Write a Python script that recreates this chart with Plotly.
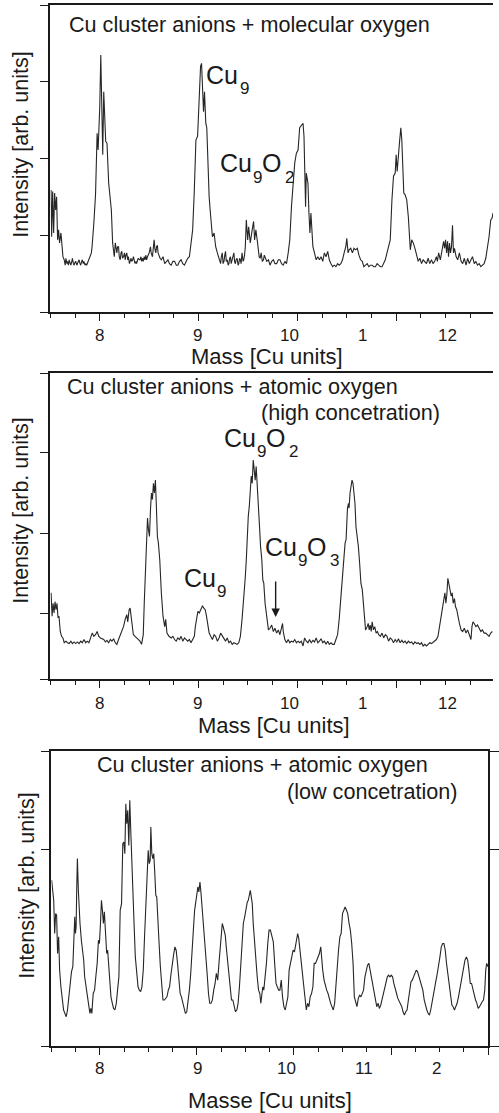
import plotly.graph_objects as go

# ---------------- data ----------------
mass1 = [7.507,7.513,7.523,7.533,7.543,7.553,7.563,7.573,7.583,7.593,7.607,7.617,7.627,7.64,7.65,7.657,7.667,7.673,7.683,7.69,
         7.7,7.707,7.717,7.723,7.733,7.74,7.75,7.757,7.767,7.773,7.783,7.79,7.8,7.807,7.817,7.823,7.833,7.84,7.85,7.857,
         7.867,7.873,7.883,7.89,7.9,7.907,7.915,7.923,7.93,7.94,7.957,7.967,7.973,7.983,7.993,8.0,8.01,8.02,8.03,8.04,
         8.05,8.06,8.073,8.09,8.107,8.117,8.13,8.14,8.147,8.157,8.165,8.173,8.18,8.19,8.197,8.207,8.215,8.223,8.23,8.24,
         8.25,8.257,8.265,8.273,8.283,8.29,8.3,8.307,8.317,8.323,8.333,8.34,8.35,8.357,8.367,8.373,8.383,8.39,8.4,8.407,
         8.417,8.423,8.433,8.44,8.45,8.457,8.467,8.473,8.483,8.49,8.5,8.513,8.52,8.533,8.54,8.55,8.557,8.567,8.575,8.583,
         8.59,8.6,8.61,8.623,8.64,8.657,8.673,8.69,8.705,8.723,8.74,8.757,8.775,8.79,8.807,8.823,8.84,8.857,8.875,8.89,
         8.907,8.917,8.923,8.94,8.957,8.973,8.99,9.0,9.01,9.02,9.03,9.04,9.05,9.06,9.073,9.083,9.097,9.107,9.117,9.13,
         9.14,9.157,9.173,9.19,9.207,9.223,9.23,9.24,9.248,9.257,9.265,9.273,9.28,9.29,9.3,9.307,9.315,9.323,9.33,9.34,
         9.35,9.357,9.365,9.373,9.38,9.39,9.4,9.407,9.415,9.423,9.43,9.44,9.45,9.457,9.465,9.473,9.483,9.497,9.507,9.523,
         9.54,9.557,9.567,9.58,9.597,9.613,9.623,9.633,9.645,9.657,9.665,9.673,9.69,9.707,9.723,9.74,9.757,9.773,9.79,9.807,
         9.823,9.84,9.857,9.873,9.89,9.907,9.923,9.94,9.957,9.973,9.99,10.007,10.023,10.04,10.057,10.067,10.077,10.083,10.09,10.107,
         10.117,10.127,10.137,10.147,10.157,10.173,10.19,10.207,10.223,10.24,10.257,10.273,10.29,10.307,10.323,10.34,10.357,10.373,10.39,10.407,
         10.423,10.44,10.457,10.473,10.49,10.5,10.513,10.523,10.54,10.557,10.573,10.59,10.607,10.623,10.64,10.657,10.673,10.69,10.707,10.723,
         10.74,10.757,10.773,10.79,10.807,10.823,10.84,10.857,10.873,10.89,10.907,10.923,10.94,10.957,10.973,10.99,11.0,11.01,11.02,11.033,
         11.047,11.057,11.067,11.077,11.09,11.107,11.123,11.133,11.143,11.157,11.173,11.19,11.207,11.223,11.24,11.257,11.273,11.29,11.307,11.323,
         11.34,11.357,11.373,11.39,11.407,11.417,11.43,11.447,11.463,11.48,11.49,11.5,11.51,11.52,11.53,11.54,11.55,11.56,11.57,11.58,
         11.59,11.607,11.623,11.64,11.657,11.673,11.69,11.707,11.723,11.74,11.757,11.773,11.79,11.807,11.823,11.84,11.857,11.873,11.89,11.907,
         11.923,11.94,11.957,11.97,11.98]
int1 = [1.59,0.98,1.57,1.03,1.55,1.33,1.50,0.94,1.07,0.90,1.03,0.81,0.72,0.68,0.61,0.70,0.63,0.66,0.61,0.68,
        0.63,0.61,0.66,0.70,0.63,0.61,0.65,0.66,0.61,0.63,0.68,0.68,0.63,0.61,0.66,0.68,0.63,0.66,0.61,0.63,
        0.61,0.63,0.66,0.68,0.70,0.72,0.77,0.87,0.98,1.16,1.53,2.07,2.33,2.11,2.40,2.68,3.35,2.61,2.05,2.87,
        2.55,2.22,2.20,1.68,1.46,1.33,0.90,0.77,0.72,0.90,0.79,0.77,0.85,0.85,0.72,0.68,0.77,0.79,0.70,0.72,
        0.77,0.68,0.74,0.77,0.68,0.72,0.63,0.66,0.70,0.66,0.68,0.72,0.66,0.63,0.66,0.63,0.68,0.70,0.68,0.68,
        0.72,0.66,0.70,0.66,0.72,0.68,0.74,0.68,0.72,0.74,0.77,0.85,0.77,0.72,0.83,0.94,0.83,0.77,0.85,0.87,
        0.77,0.72,0.70,0.68,0.72,0.63,0.66,0.68,0.63,0.61,0.66,0.66,0.61,0.61,0.66,0.68,0.63,0.61,0.66,0.70,
        0.72,0.85,0.94,1.07,1.59,2.24,2.29,2.68,3.03,3.20,3.24,2.90,2.61,2.87,2.46,2.40,1.81,1.50,1.33,1.16,
        0.98,1.03,0.85,0.77,0.70,0.63,0.72,0.77,0.63,0.66,0.74,0.79,0.66,0.68,0.61,0.63,0.70,0.72,0.63,0.68,
        0.70,0.77,0.65,0.63,0.68,0.70,0.61,0.63,0.70,0.68,0.63,0.77,0.66,0.68,0.74,0.85,1.20,0.94,1.11,0.90,
        1.05,1.18,0.94,1.07,0.90,0.72,0.70,0.77,0.66,0.68,0.74,0.72,0.66,0.68,0.61,0.66,0.68,0.63,0.63,0.68,
        0.68,0.63,0.61,0.66,0.63,0.77,0.94,1.37,1.72,1.94,2.07,2.11,2.40,2.44,2.46,2.29,1.85,1.37,1.81,1.68,
        1.29,1.03,1.29,1.11,0.85,0.77,0.68,0.72,0.68,0.72,0.66,0.77,0.72,0.79,0.68,0.63,0.59,0.61,0.59,0.63,
        0.61,0.63,0.68,0.77,0.85,0.96,0.77,0.81,0.83,0.77,0.83,0.81,0.83,0.74,0.68,0.66,0.59,0.61,0.63,0.59,
        0.61,0.61,0.59,0.59,0.63,0.61,0.59,0.59,0.63,0.68,0.77,0.87,0.94,1.46,1.77,1.81,2.05,1.83,2.05,2.20,
        2.40,2.24,1.90,1.55,1.53,1.46,1.24,1.03,0.81,0.94,0.90,0.83,0.72,0.66,0.70,0.63,0.68,0.66,0.63,0.70,
        0.63,0.68,0.63,0.66,0.72,0.66,0.77,0.68,0.79,0.92,0.83,0.94,0.77,0.92,0.72,0.90,0.77,0.85,1.13,0.77,
        0.83,0.72,0.68,0.77,0.66,0.63,0.70,0.61,0.70,0.63,0.68,0.72,0.63,0.66,0.61,0.63,0.59,0.61,0.63,0.70,
        0.83,0.98,1.20,1.22,1.29]

mass2 = [7.507,7.517,7.527,7.537,7.547,7.557,7.567,7.577,7.587,7.6,7.613,7.627,7.64,7.657,7.673,7.69,7.707,7.723,7.74,7.757,
         7.773,7.79,7.807,7.823,7.84,7.857,7.873,7.89,7.907,7.923,7.94,7.957,7.973,7.99,8.007,8.023,8.04,8.057,8.073,8.09,
         8.107,8.123,8.14,8.157,8.173,8.19,8.207,8.223,8.24,8.257,8.273,8.283,8.297,8.307,8.317,8.327,8.34,8.357,8.373,8.39,
         8.407,8.423,8.44,8.45,8.46,8.473,8.483,8.493,8.503,8.513,8.523,8.533,8.543,8.553,8.563,8.573,8.583,8.593,8.607,8.623,
         8.64,8.657,8.667,8.68,8.7,8.723,8.74,8.757,8.773,8.79,8.807,8.823,8.84,8.857,8.873,8.89,8.907,8.923,8.94,8.957,
         8.967,8.98,8.993,9.007,9.02,9.03,9.04,9.053,9.067,9.08,9.093,9.107,9.123,9.14,9.157,9.173,9.19,9.207,9.223,9.24,
         9.257,9.273,9.29,9.307,9.323,9.34,9.357,9.373,9.39,9.407,9.423,9.44,9.457,9.473,9.483,9.493,9.503,9.513,9.523,9.533,
         9.543,9.553,9.563,9.573,9.583,9.593,9.607,9.617,9.627,9.64,9.65,9.66,9.673,9.683,9.693,9.707,9.723,9.74,9.757,9.773,
         9.79,9.807,9.823,9.84,9.85,9.857,9.873,9.89,9.907,9.923,9.94,9.957,9.973,9.99,10.007,10.023,10.04,10.057,10.073,10.09,
         10.107,10.123,10.14,10.157,10.173,10.19,10.207,10.223,10.24,10.257,10.273,10.29,10.307,10.323,10.34,10.357,10.373,10.39,10.407,10.423,
         10.44,10.457,10.473,10.483,10.493,10.507,10.517,10.523,10.533,10.543,10.553,10.563,10.573,10.583,10.593,10.603,10.617,10.63,10.643,10.657,
         10.667,10.677,10.69,10.707,10.717,10.727,10.737,10.747,10.757,10.77,10.783,10.797,10.81,10.823,10.84,10.857,10.873,10.89,10.907,10.923,
         10.94,10.957,10.973,10.99,11.007,11.023,11.04,11.057,11.073,11.09,11.107,11.123,11.14,11.157,11.173,11.19,11.207,11.223,11.24,11.257,
         11.273,11.29,11.307,11.323,11.34,11.357,11.373,11.39,11.407,11.423,11.433,11.447,11.457,11.473,11.483,11.493,11.503,11.513,11.523,11.533,
         11.543,11.557,11.567,11.577,11.59,11.6,11.613,11.623,11.64,11.657,11.673,11.69,11.707,11.723,11.74,11.757,11.767,11.777,11.79,11.807,
         11.823,11.84,11.857,11.873,11.89,11.907,11.923,11.94,11.957,11.973]
int2 = [1.26,0.97,1.13,1.01,1.15,1.05,1.13,0.95,0.97,0.78,0.72,0.70,0.64,0.66,0.64,0.63,0.66,0.63,0.65,0.63,
        0.65,0.63,0.66,0.64,0.68,0.64,0.66,0.64,0.70,0.76,0.72,0.74,0.78,0.72,0.70,0.69,0.68,0.65,0.67,0.64,
        0.68,0.66,0.69,0.64,0.62,0.68,0.74,0.80,0.84,0.93,0.99,0.90,1.05,1.07,0.97,0.88,0.74,0.72,0.70,0.68,
        0.66,0.62,0.74,1.13,1.46,1.88,2.19,2.04,1.96,2.29,2.50,2.42,2.62,2.50,2.66,2.33,1.96,1.88,1.67,1.26,
        0.97,0.84,0.93,0.76,0.72,0.70,0.72,0.68,0.66,0.70,0.68,0.72,0.66,0.70,0.68,0.66,0.68,0.64,0.68,0.72,
        0.84,0.97,1.03,1.01,1.05,1.09,1.10,1.07,1.05,0.97,0.84,0.76,0.72,0.68,0.74,0.72,0.66,0.70,0.76,0.72,
        0.68,0.66,0.70,0.64,0.66,0.62,0.64,0.63,0.62,0.64,0.72,0.93,1.17,1.46,1.67,2.00,2.21,2.33,2.54,2.71,
        2.62,2.91,2.79,2.66,2.83,2.58,2.15,2.08,1.84,1.67,1.42,1.38,1.13,1.01,0.88,0.80,0.82,0.86,0.78,0.82,
        0.76,0.80,0.74,0.84,0.88,0.78,0.68,0.64,0.68,0.64,0.66,0.65,0.68,0.64,0.66,0.64,0.66,0.60,0.70,0.66,
        0.64,0.68,0.64,0.67,0.65,0.70,0.64,0.66,0.69,0.64,0.66,0.62,0.66,0.62,0.64,0.62,0.62,0.68,0.74,0.93,
        1.22,1.51,1.80,1.88,1.92,2.31,2.37,2.31,2.50,2.62,2.66,2.62,2.50,2.37,2.08,2.00,1.84,1.63,1.38,1.30,
        1.13,1.05,0.80,0.84,0.88,0.80,0.86,0.78,0.90,0.80,0.84,0.76,0.78,0.74,0.72,0.76,0.70,0.74,0.72,0.66,
        0.70,0.68,0.64,0.68,0.65,0.69,0.64,0.67,0.64,0.66,0.63,0.66,0.64,0.65,0.62,0.65,0.63,0.64,0.62,0.64,
        0.60,0.62,0.60,0.62,0.64,0.63,0.65,0.66,0.68,0.72,0.80,0.93,0.97,1.09,1.22,1.26,1.13,1.24,1.44,1.38,
        1.30,1.22,1.26,1.13,1.19,1.09,1.05,0.97,0.88,0.80,0.78,0.82,0.76,0.80,0.74,0.68,0.84,0.90,0.88,0.84,
        0.86,0.82,0.78,0.80,0.76,0.76,0.74,0.72,0.76,0.78]

mass3 = [7.503,7.514,7.524,7.534,7.544,7.554,7.564,7.575,7.585,7.598,7.612,7.626,7.639,7.653,7.666,7.680,7.693,7.707,7.721,7.731,
         7.741,7.748,7.755,7.761,7.768,7.778,7.788,7.795,7.809,7.822,7.833,7.843,7.856,7.870,7.883,7.897,7.907,7.917,7.931,7.945,
         7.958,7.972,7.985,7.995,8.006,8.016,8.026,8.036,8.046,8.057,8.070,8.080,8.091,8.101,8.114,8.128,8.141,8.155,8.169,8.182,
         8.196,8.209,8.223,8.236,8.247,8.257,8.267,8.277,8.287,8.298,8.308,8.318,8.328,8.338,8.352,8.365,8.379,8.393,8.406,8.420,
         8.433,8.447,8.460,8.474,8.488,8.498,8.508,8.518,8.525,8.535,8.545,8.555,8.566,8.576,8.586,8.596,8.610,8.623,8.637,8.650,
         8.664,8.678,8.691,8.705,8.718,8.732,8.745,8.759,8.773,8.786,8.800,8.813,8.827,8.840,8.854,8.868,8.881,8.895,8.908,8.922,
         8.936,8.949,8.963,8.976,8.990,9.000,9.010,9.020,9.031,9.041,9.051,9.064,9.078,9.092,9.105,9.119,9.132,9.146,9.159,9.173,
         9.187,9.200,9.214,9.227,9.241,9.251,9.261,9.271,9.282,9.292,9.302,9.316,9.329,9.343,9.356,9.370,9.383,9.397,9.411,9.424,
         9.438,9.451,9.465,9.478,9.492,9.506,9.519,9.529,9.540,9.550,9.560,9.570,9.580,9.594,9.607,9.621,9.635,9.648,9.658,9.669,
         9.679,9.689,9.703,9.716,9.730,9.743,9.757,9.767,9.777,9.787,9.801,9.815,9.828,9.842,9.855,9.869,9.882,9.896,9.910,9.923,
         9.937,9.950,9.964,9.977,9.991,10.005,10.018,10.028,10.038,10.049,10.059,10.072,10.086,10.100,10.113,10.127,10.140,10.154,10.167,10.181,
         10.195,10.208,10.222,10.235,10.249,10.262,10.276,10.286,10.296,10.310,10.324,10.337,10.351,10.364,10.378,10.391,10.405,10.419,10.432,10.446,
         10.459,10.473,10.486,10.500,10.514,10.527,10.541,10.554,10.568,10.581,10.595,10.609,10.622,10.636,10.649,10.663,10.677,10.690,10.704,10.717,
         10.731,10.744,10.758,10.772,10.785,10.799,10.812,10.826,10.839,10.853,10.867,10.880,10.894,10.907,10.921,10.934,10.948,10.962,10.975,10.989,
         11.002,11.016,11.029,11.043,11.057,11.070,11.084,11.097,11.111,11.124,11.138,11.152,11.165,11.179,11.192,11.206,11.219,11.233,11.247,11.260,
         11.274,11.287,11.301,11.314,11.328,11.342,11.355,11.369,11.382,11.396,11.409,11.423,11.437,11.450,11.464,11.477,11.491,11.504,11.518,11.532,
         11.545,11.559,11.572,11.586,11.600,11.613,11.627,11.640,11.654,11.667,11.681,11.695,11.708,11.722,11.735,11.749,11.762,11.776,11.790,11.803,
         11.817,11.830,11.844,11.857,11.871,11.885,11.898,11.912,11.925,11.939,11.953,11.966,11.976,11.986,12.000]
int3 = [0.843,0.792,0.741,0.572,0.673,0.665,0.470,0.555,0.386,0.301,0.250,0.183,0.166,0.149,0.183,0.250,0.318,0.377,0.403,0.555,
        0.657,0.572,0.606,0.792,0.953,0.792,0.657,0.623,0.538,0.487,0.437,0.352,0.301,0.250,0.217,0.166,0.191,0.166,0.267,0.284,
        0.352,0.420,0.538,0.521,0.623,0.741,0.690,0.623,0.682,0.555,0.470,0.487,0.420,0.318,0.250,0.217,0.191,0.183,0.217,0.284,
        0.352,0.690,0.724,1.029,1.037,0.978,1.232,1.130,1.198,1.020,1.249,1.096,0.927,0.843,0.623,0.453,0.369,0.301,0.284,0.276,
        0.301,0.386,0.555,0.690,0.843,0.995,0.927,0.944,1.113,0.978,0.953,0.978,0.876,0.766,0.758,0.623,0.521,0.403,0.301,0.234,
        0.234,0.242,0.250,0.284,0.301,0.362,0.420,0.462,0.504,0.487,0.420,0.352,0.267,0.250,0.225,0.200,0.166,0.174,0.217,0.284,
        0.369,0.453,0.589,0.690,0.733,0.783,0.809,0.783,0.834,0.783,0.724,0.640,0.572,0.470,0.369,0.267,0.217,0.217,0.234,0.284,
        0.318,0.369,0.335,0.420,0.521,0.572,0.623,0.606,0.589,0.563,0.504,0.437,0.386,0.318,0.234,0.234,0.200,0.174,0.183,0.217,
        0.301,0.420,0.504,0.623,0.657,0.707,0.733,0.741,0.775,0.792,0.758,0.724,0.623,0.521,0.437,0.352,0.284,0.267,0.217,0.267,
        0.301,0.284,0.352,0.420,0.521,0.589,0.589,0.572,0.555,0.530,0.420,0.318,0.301,0.284,0.284,0.335,0.250,0.200,0.183,0.217,
        0.250,0.386,0.420,0.453,0.487,0.479,0.521,0.555,0.572,0.547,0.504,0.437,0.369,0.318,0.250,0.183,0.217,0.200,0.250,0.267,
        0.301,0.420,0.420,0.437,0.453,0.470,0.504,0.437,0.386,0.335,0.301,0.284,0.267,0.234,0.217,0.200,0.183,0.217,0.318,0.420,
        0.487,0.555,0.572,0.673,0.690,0.707,0.690,0.673,0.623,0.589,0.521,0.420,0.250,0.217,0.200,0.242,0.259,0.250,0.267,0.284,
        0.352,0.386,0.411,0.420,0.386,0.352,0.318,0.284,0.234,0.200,0.217,0.191,0.208,0.234,0.267,0.301,0.318,0.352,0.360,0.352,
        0.360,0.352,0.318,0.284,0.267,0.242,0.225,0.217,0.200,0.174,0.157,0.174,0.183,0.234,0.284,0.327,0.335,0.352,0.377,0.386,
        0.377,0.352,0.335,0.301,0.284,0.234,0.200,0.183,0.166,0.157,0.183,0.217,0.267,0.301,0.335,0.369,0.403,0.453,0.504,0.521,
        0.521,0.487,0.420,0.369,0.318,0.250,0.208,0.200,0.183,0.200,0.217,0.250,0.284,0.318,0.352,0.403,0.437,0.453,0.437,0.386,
        0.318,0.318,0.284,0.250,0.234,0.217,0.191,0.200,0.217,0.225,0.234,0.284,0.386,0.420,0.403]

tick_text12 = ["8", "9", "10", "1", "12"]
tick_pos12 = [8.0, 8.99, 9.92, 10.66, 11.52]
tick_text3 = ["8", "9", "10", "11", "2"]
tick_pos3 = [8.0, 9.01, 9.92, 10.72, 11.47]

assert len(mass1) == len(int1), (len(mass1), len(int1))
assert len(mass2) == len(int2), (len(mass2), len(int2))
assert len(mass3) == len(int3), (len(mass3), len(int3))

# ---------------- figure ----------------
W, H = 499, 1113
FONT = "Liberation Sans, Arial, Helvetica, sans-serif"
INK = "#1a1a1a"

def fx(p):
    return p / W

def fy(p):
    return 1 - p / H

fig = go.Figure()
line_style = dict(color="#262626", width=1.1)
fig.add_trace(go.Scatter(x=mass1, y=int1, mode="lines", line=line_style, xaxis="x", yaxis="y"))
fig.add_trace(go.Scatter(x=mass2, y=int2, mode="lines", line=line_style, xaxis="x2", yaxis="y2"))
fig.add_trace(go.Scatter(x=mass3, y=int3, mode="lines", line=line_style, xaxis="x3", yaxis="y3"))

def xax(domain, rng, anchor):
    return dict(domain=domain, range=rng, anchor=anchor, showline=True, linecolor=INK, linewidth=1.5,
                mirror=True, ticks="outside", tickmode="linear", tick0=8, dtick=1, ticklen=7,
                tickwidth=1.4, tickcolor=INK, showticklabels=False, showgrid=False, zeroline=False,
                minor=dict(dtick=0.25, tick0=7.5, ticklen=4, tickwidth=1.3, tickcolor=INK,
                           ticks="outside", showgrid=False))

def yax(domain, rng, anchor, tv, mirror=False):
    return dict(domain=domain, range=rng, anchor=anchor, showline=True, linecolor=INK, linewidth=1.5,
                mirror=mirror, ticks="outside", tickmode="array", tickvals=tv, ticklen=9,
                tickwidth=1.4, tickcolor=INK, showticklabels=False, showgrid=False, zeroline=False)

fig.update_layout(
    width=W, height=H, margin=dict(l=0, r=0, t=0, b=0), autosize=False,
    paper_bgcolor="white", plot_bgcolor="white", showlegend=False,
    font=dict(family=FONT, color=INK, size=15),
    xaxis=xax([fx(51), 1.0], [7.5, 11.98], "y"),
    yaxis=yax([fy(312), fy(5)], [0, 4], "x", [0, 1, 2, 3, 4]),
    xaxis2=xax([fx(51), 1.0], [7.5, 11.98], "y2"),
    yaxis2=yax([fy(679), fy(373)], [0.19, 3.99], "x2", [0.19, 1, 2, 3, 3.99]),
    xaxis3=xax([fx(52), fx(494)], [7.5, 12.0], "y3"),
    yaxis3=yax([fy(1046), fy(751)], [0, 1.5], "x3", [0, 1, 1.5], mirror="ticks"),
)

ann = []
def text(x, y, s, size, xanchor="center", yanchor="middle", xref="paper", angle=0):
    ann.append(dict(x=x, y=y, xref=xref, yref="paper", text=s, showarrow=False,
                    xanchor=xanchor, yanchor=yanchor, textangle=angle, borderpad=0,
                    font=dict(family=FONT, size=size, color=INK)))

# tick labels
for t, p in zip(tick_text12, tick_pos12):
    text(p, fy(335), t, 17, xref="x")
    text(p, fy(703), t, 17, xref="x2")
for t, p in zip(tick_text3, tick_pos3):
    text(p, fy(1068), t, 17, xref="x3")

# axis titles
text(fx(270), fy(357), "Mass [Cu units]", 22)
text(fx(277), fy(725), "Mass [Cu units]", 22)
text(fx(273), fy(1100), "Masse [Cu units]", 22)
text(fx(21), fy(145), "Intensity [arb. units]", 21.5, angle=-90)
text(fx(21), fy(511), "Intensity [arb. units]", 21.5, angle=-90)
text(fx(27), fy(886), "Intensity [arb. units]", 21.5, angle=-90)

# panel titles
text(fx(253), fy(25), "Cu cluster anions + molecular oxygen", 21.6)
text(fx(235), fy(387), "Cu cluster anions + atomic oxygen", 21.6)
text(fx(355), fy(412), "(high concetration)", 21.6)
text(fx(266), fy(764), "Cu cluster anions + atomic oxygen", 21.6)
text(fx(377), fy(791), "(low concetration)", 21.6)

# peak labels: main glyphs and subscripts drawn as separate texts
BIG, SMALL = 25, 17
def formula(pieces, yc, ysub):
    for s, left, is_sub in pieces:
        if is_sub:
            text(fx(left), fy(ysub), s, SMALL, xanchor="left")
        else:
            text(fx(left), fy(yc), s, BIG, xanchor="left")

formula([("Cu", 208, False), ("9", 242, True)], 75, 89)
formula([("Cu", 222, False), ("9", 255, True), ("O", 264, False), ("2", 287, True)], 163, 177)
formula([("Cu", 226, False), ("9", 259, True), ("O", 268, False), ("2", 291, True)], 438, 452)
formula([("Cu", 185, False), ("9", 219, True)], 578, 592)
formula([("Cu", 267, False), ("9", 301, True), ("O", 310, False), ("3", 333, True)], 547, 560)

# arrow to Cu9O3 position
ann.append(dict(x=9.78, y=0.96, xref="x2", yref="y2", text="", showarrow=True,
                ax=0, ay=-37, arrowhead=2, arrowsize=1.2, arrowwidth=1.4, arrowcolor=INK))

fig.update_layout(annotations=ann)
fig.write_html("out.html")
